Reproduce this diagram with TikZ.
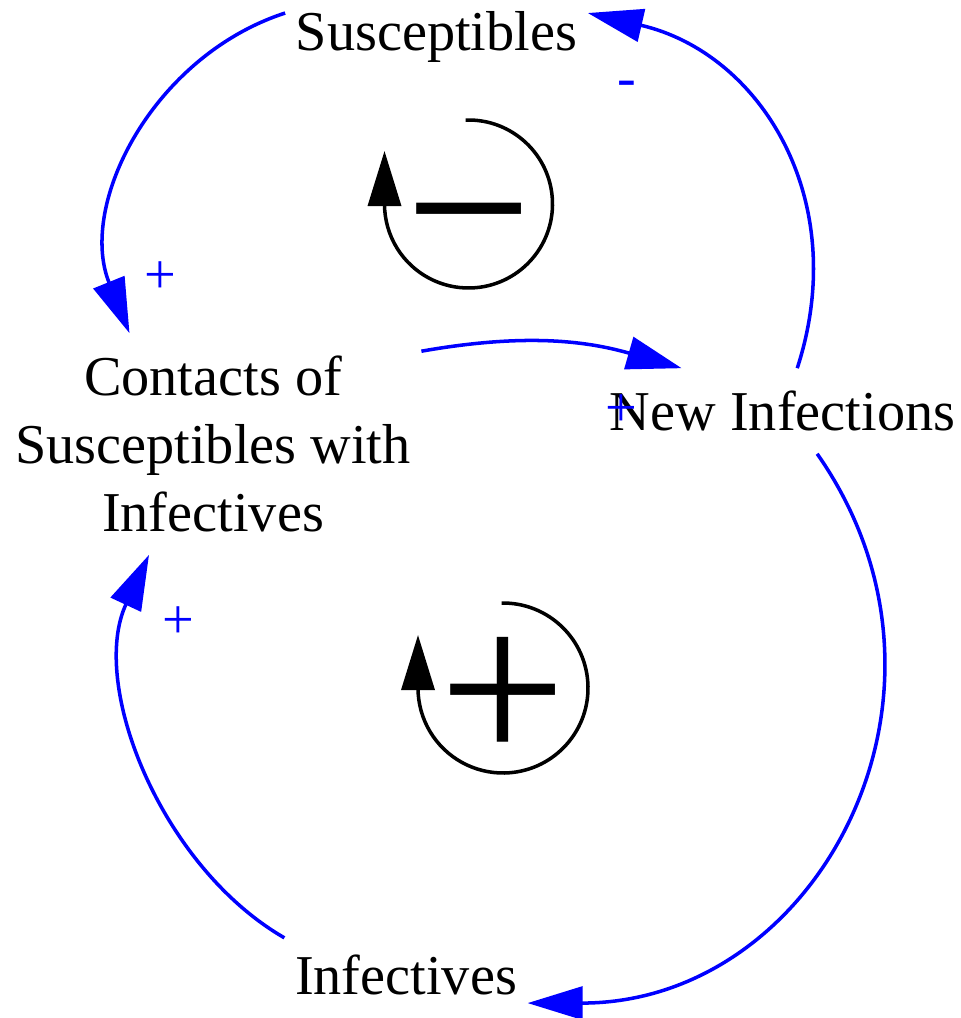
\documentclass[tikz,border=0pt]{standalone}
\usepackage{fontspec}
\setmainfont{Liberation Serif}
\usepackage{tikz}
\usetikzlibrary{arrows.meta}

\begin{document}
\begin{tikzpicture}[
x=0.01cm, y=0.01cm,
% Style for the variables (plain text, no frame)
var style/.style={
font=\fontsize{16}{19.35}\selectfont,
align=center,
inner xsep=0.1cm,
inner ysep=0.22cm
},
% Style for the causal links
link style/.style={
draw=blue,
line width=1pt,
-{Triangle[length=0.55cm,width=0.33cm]}
},
% Style for the small polarity signs
sign style/.style={
text=blue,
font=\fontsize{16}{19.35}\selectfont,
inner sep=0pt
},
% Style for the loop markers
loop style/.style={
draw=black,
line width=1pt,
-{Triangle[length=0.55cm,width=0.33cm]}
},
loop sign/.style={
font=\fontsize{64}{66}\selectfont,
inner sep=0pt,
anchor=north
}
]

\useasboundingbox (0,0) rectangle (961,-1018);

% Variables
\node[var style] (sus) at (436.5,-37) {Susceptibles};
\node[var style] (contacts) at (213,-444) {Contacts of\\Susceptibles with\\Infectives};
\node[var style] (ni) at (782.5,-411) {New Infections};
\node[var style] (inf) at (406,-975) {Infectives};

% Causal links
\draw[link style] (sus.171) to[out=198, in=112] (contacts.127);
\draw[link style] (ni.71) to[out=72, in=-13, looseness=1.1] (sus.9);
\draw[link style] (contacts.24) to[out=10, in=164] (ni.157);
\draw[link style] (ni.309) to[out=-55, in=0, looseness=1.2] (inf.347);
\draw[link style] (inf.163) to[out=150, in=245, looseness=0.9] (contacts.240);

% Link polarities
\node[sign style] (pol1) at (160,-278) {+};
\node[sign style, anchor=north] (pol2) at (626.5,-80) {-};
\node[sign style] (pol3) at (621.5,-410.5) {+};
\node[sign style] (pol5) at (178,-622.5) {+};

% Balancing loop (top)
\coordinate (negloop) at (468.5,-204);
\draw[loop style] (negloop) ++(92:84) arc[start angle=92, end angle=-180, radius=84] -- ++(0,53);
\node[loop sign] (negsign) at (469,-202) {−};

% Reinforcing loop (bottom)
\coordinate (posloop) at (503,-688);
\draw[loop style] (posloop) ++(91:85) arc[start angle=91, end angle=-180, radius=85] -- ++(0,53);
\node[loop sign] (possign) at (503,-637) {+};

\end{tikzpicture}
\end{document}
